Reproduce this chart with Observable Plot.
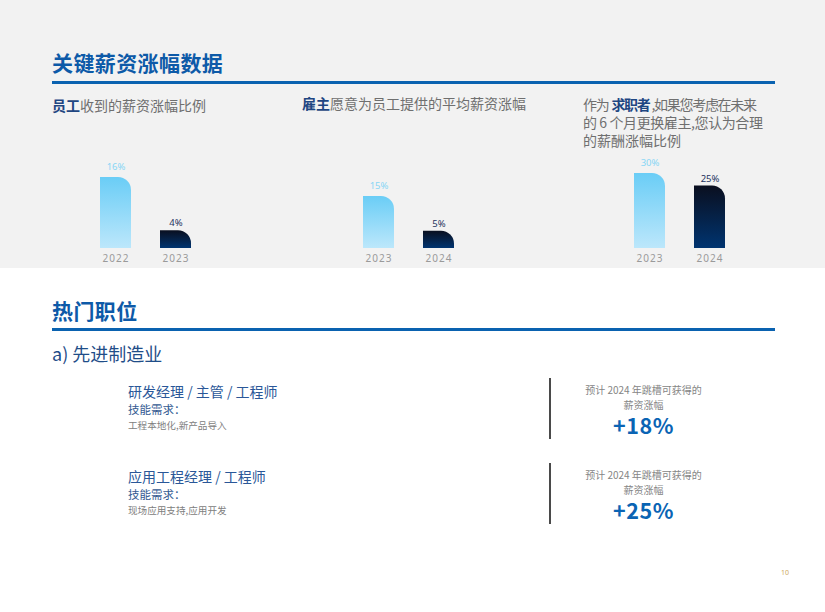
<!DOCTYPE html>
<html><head><meta charset="utf-8">
<script src="https://cdn.jsdelivr.net/npm/d3@7"></script>
<script src="https://cdn.jsdelivr.net/npm/@observablehq/plot@0.6"></script>
<style>
body{margin:0;background:#fff;}
#page{position:relative;width:825px;height:612px;overflow:hidden;font-family:"Noto Sans CJK SC","Noto Sans",sans-serif;background:#fff;}
#grey{position:absolute;left:0;top:0;width:825px;height:268px;background:#f2f2f2;}
.t{position:absolute;white-space:nowrap;}
.h1{font-size:21px;font-weight:700;color:#0d5aa8;line-height:26px;letter-spacing:0.4px;}
.rule{position:absolute;left:52px;width:723px;height:3px;background:#0a62b0;}
.sub{font-size:14px;color:#6f6f6f;line-height:16px;}
.sub b{color:#1f4682;font-weight:700;}
.sec{font-size:18px;color:#1f4d88;line-height:22px;}
.job{font-size:14px;color:#2a5798;line-height:16px;font-weight:400;}
.skill{font-size:11.5px;color:#335a92;line-height:13px;}
.detail{font-size:9.6px;color:#808080;line-height:11px;}
.vline{position:absolute;left:549px;width:1.5px;background:#4a4a4a;}
.rc{position:absolute;left:543px;width:201px;text-align:center;white-space:nowrap;}
.note{font-size:10px;color:#858585;line-height:11px;}
.big{font-size:21.5px;font-weight:700;color:#0a64b4;line-height:22px;letter-spacing:0.6px;}
.chart{position:absolute;top:150px;width:120px;height:118px;}
.chart svg{overflow:visible;}
</style>
</head><body>
<svg width="0" height="0" style="position:absolute">
  <defs>
    <linearGradient id="gLight" x1="0" y1="0" x2="0" y2="1">
      <stop offset="0" stop-color="#6acdf6"/>
      <stop offset="1" stop-color="#bce7fb"/>
    </linearGradient>
    <linearGradient id="gDark" x1="0" y1="0" x2="0" y2="1">
      <stop offset="0" stop-color="#0a0f1f"/>
      <stop offset="1" stop-color="#003470"/>
    </linearGradient>
  </defs>
</svg>
<div id="page">
  <div id="grey"></div>
  <div class="t h1" style="left:52px;top:49px;">关键薪资涨幅数据</div>
  <div class="rule" style="top:81px;"></div>
  <div class="t sub" style="left:52px;top:96.5px;"><b>员工</b>收到的薪资涨幅比例</div>
  <div class="t sub" style="left:302px;top:95px;"><b>雇主</b>愿意为员工提供的平均薪资涨幅</div>
  <div class="t sub" style="left:583px;top:96px;letter-spacing:-1.3px;">作为<b style="margin:0 2px 0 3px">求职者</b>,如果您考虑在未来</div>
  <div class="t sub" style="left:583px;top:114px;letter-spacing:-0.4px;">的 6 个月更换雇主,您认为合理</div>
  <div class="t sub" style="left:583px;top:132px;">的薪酬涨幅比例</div>

  <div class="chart" id="c1" style="left:86px;"></div>
  <div class="chart" id="c2" style="left:349px;"></div>
  <div class="chart" id="c3" style="left:620px;"></div>

  <div class="t h1" style="left:52px;top:297px;">热门职位</div>
  <div class="rule" style="top:328px;"></div>
  <div class="t sec" style="left:52px;top:342px;">a) 先进制造业</div>

  <div class="t job" style="left:128px;top:382.7px;">研发经理 / 主管 / 工程师</div>
  <div class="t skill" style="left:128px;top:402.8px;">技能需求：</div>
  <div class="t detail" style="left:128px;top:419.5px;">工程本地化,新产品导入</div>
  <div class="vline" style="top:378px;height:61px;"></div>
  <div class="rc note" style="top:384.2px;">预计 2024 年跳槽可获得的</div>
  <div class="rc note" style="top:398.7px;">薪资涨幅</div>
  <div class="rc big" style="top:413.5px;">+18%</div>

  <div class="t job" style="left:128px;top:467.7px;">应用工程经理 / 工程师</div>
  <div class="t skill" style="left:128px;top:487.8px;">技能需求：</div>
  <div class="t detail" style="left:128px;top:505.2px;">现场应用支持,应用开发</div>
  <div class="vline" style="top:463px;height:61px;"></div>
  <div class="rc note" style="top:469.2px;">预计 2024 年跳槽可获得的</div>
  <div class="rc note" style="top:483.7px;">薪资涨幅</div>
  <div class="rc big" style="top:498.5px;">+25%</div>

  <div class="t" style="left:781px;top:568px;font-size:7px;line-height:9px;color:#cda85c;font-family:'Noto Sans',sans-serif;">10</div>
</div>
<script>
// ---- data ----
const chart1Years = ["2022", "2023"];
const chart1Values = [16, 4];
const chart2Years = ["2023", "2024"];
const chart2Values = [15, 5];
const chart3Years = ["2023", "2024"];
const chart3Values = [30, 25];
const barTones = ["light", "dark"];

function roundTopRight(svg, r) {
  d3.select(svg).selectAll("g[aria-label='bar'] rect").each(function () {
    const x = +this.getAttribute("x"), y = +this.getAttribute("y");
    const w = +this.getAttribute("width"), h = +this.getAttribute("height");
    const rr = Math.min(r, w, h);
    const d = `M${x},${y + h}V${y}H${x + w - rr}A${rr},${rr} 0 0 1 ${x + w},${y + rr}V${y + h}Z`;
    const path = document.createElementNS("http://www.w3.org/2000/svg", "path");
    path.setAttribute("d", d);
    for (const a of ["fill", "stroke", "fill-opacity"]) {
      if (this.getAttribute(a)) path.setAttribute(a, this.getAttribute(a));
    }
    this.replaceWith(path);
  });
}

function makeChart(years, values, yMax) {
  const rows = years.map((year, i) => ({year, value: values[i], tone: barTones[i]}));
  const light = rows.filter(d => d.tone === "light");
  const dark = rows.filter(d => d.tone === "dark");
  const svg = Plot.plot({
    width: 120,
    height: 118,
    marginTop: 0,
    marginBottom: 20,
    marginLeft: 0,
    marginRight: 0,
    style: {background: "transparent", fontFamily: "'Noto Sans', sans-serif", overflow: "visible"},
    x: {domain: years, paddingInner: 0.479, paddingOuter: 0.2345, axis: null},
    y: {domain: [0, yMax], axis: null},
    marks: [
      Plot.barY(light, {x: "year", y: "value", fill: "url(#gLight)"}),
      Plot.barY(dark, {x: "year", y: "value", fill: "url(#gDark)"}),
      Plot.text(light, {x: "year", y: "value", text: d => d.value + "%", dy: -11, fill: "#88d6f5", fontSize: 9.5}),
      Plot.text(dark, {x: "year", y: "value", text: d => d.value + "%", dy: -7.5, fill: "#1e3460", fontSize: 9.5}),
      Plot.axisX({tickSize: 0, tickPadding: 6, fontSize: 10, color: "#9a9a9a", label: null})
    ]
  });
  svg.querySelectorAll("g[aria-label='x-axis tick label']").forEach(e => e.setAttribute("letter-spacing", "1"));
  roundTopRight(svg, 13);
  return svg;
}

document.getElementById("c1").appendChild(makeChart(chart1Years, chart1Values, 22.1));
document.getElementById("c2").appendChild(makeChart(chart2Years, chart2Values, 28.3));
document.getElementById("c3").appendChild(makeChart(chart3Years, chart3Values, 39.2));
</script>
</body></html>
